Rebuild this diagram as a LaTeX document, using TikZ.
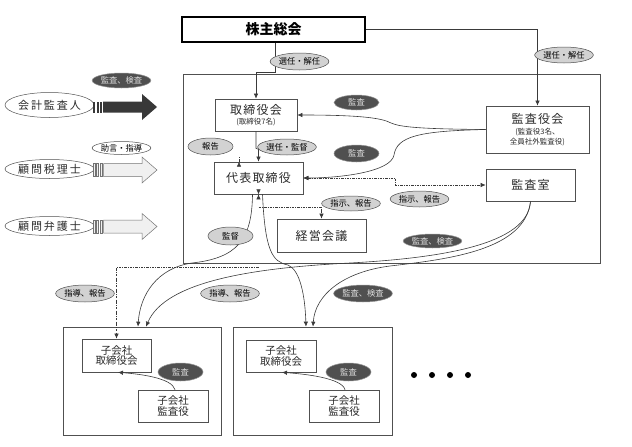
\documentclass[tikz,border=0pt]{standalone}
\usepackage{fontspec}
\setmainfont{Noto Sans CJK JP}
\newfontfamily\jpsp[LetterSpace=10]{Noto Sans CJK JP}
\newfontfamily\jpwide[LetterSpace=18]{Noto Sans CJK JP}
\usetikzlibrary{calc,arrows.meta,shapes.geometric}
\definecolor{lineg}{HTML}{3A3A3A}
\definecolor{boxg}{HTML}{505050}
\definecolor{darkfill}{HTML}{505050}
\definecolor{lightfill}{HTML}{D2D2D2}
\definecolor{arrowdark}{HTML}{383838}
\definecolor{arrowlight}{HTML}{F0F0F0}
\definecolor{txt}{HTML}{2A2A2A}
\definecolor{darklabtxt}{HTML}{DDDDDD}
\begin{document}
\begin{tikzpicture}[x=1pt,y=-1pt,
  box/.style={draw=boxg, line width=0.7pt, fill=white, inner sep=0pt, text=txt, align=center},
  outerbox/.style={draw=boxg, line width=0.7pt, inner sep=0pt},
  bigtxt/.style={font=\jpsp\fontsize{12}{14}\selectfont},
  subtxt/.style={font=\fontsize{10.5}{12.5}\selectfont},
  lab/.style={ellipse, draw=boxg, line width=0.5pt, inner sep=0pt, font=\fontsize{8.3}{9}\selectfont, text=black},
  lablight/.style={lab, fill=lightfill},
  labdark/.style={lab, fill=darkfill, draw=boxg!60, text=darklabtxt},
  labwhite/.style={lab, fill=white},
  person/.style={ellipse, draw=boxg, line width=0.5pt, fill=white, inner sep=0pt, minimum width=75pt, font=\jpwide\fontsize{11}{12}\selectfont, text=txt},
  conn/.style={draw=lineg, line width=0.6pt},
  arr/.style={conn, -{Latex[length=5pt,width=4.5pt]}},
  dd/.style={dash pattern=on 2.5pt off 1.2pt on 0.6pt off 1.2pt},
  lightarrow/.style={draw=boxg!80, line width=0.5pt, fill=arrowlight}
]
\useasboundingbox (0,0) rectangle (632,447);

% ---------- main boxes ----------
\node[box, line width=1.6pt, draw=black, minimum width=183pt, minimum height=25pt,
      font=\bfseries\fontsize{14}{16}\selectfont, text=black] (soukai) at (273.5,29.5) {株主総会};
\node[outerbox, minimum width=417pt, minimum height=189pt] (honsha) at (391.5,168.5) {};
\node[box, minimum width=82pt, minimum height=32pt] (tori) at (256,115)
  {{\jpsp\fontsize{12}{13}\selectfont 取締役会}\\[-2pt]{\fontsize{7.5}{8}\selectfont (取締役7名)}};
\node[box, bigtxt, minimum width=89pt, minimum height=32pt] (daihyo) at (258.5,178) {代表取締役};
\node[box, bigtxt, minimum width=89pt, minimum height=33pt] (keiei) at (321.5,235.5) {経営会議};
\node[box, minimum width=103pt, minimum height=47pt] (kansayaku) at (537.5,129.5)
  {{\jpsp\fontsize{12}{13}\selectfont 監査役会}\\[-1pt]{\fontsize{7.5}{9}\selectfont (監査役3名、}\\[-2pt]{\fontsize{7.5}{9}\selectfont 全員社外監査役)}};
\node[box, bigtxt, minimum width=89pt, minimum height=32pt] (kansashitsu) at (530.5,185) {監査室};

% ---------- subsidiaries ----------
\node[outerbox, minimum width=158pt, minimum height=108pt] (sub1) at (142,381) {};
\node[box, subtxt, minimum width=69pt, minimum height=33pt] (subAtori) at (116.5,355.5) {子会社\\[-2pt]取締役会};
\node[box, subtxt, minimum width=70pt, minimum height=32pt] (subAkansa) at (173,406) {子会社\\[-2pt]監査役};
\node[outerbox, minimum width=159pt, minimum height=108pt] (sub2) at (312.5,381) {};
\node[box, subtxt, minimum width=70pt, minimum height=32pt] (subBtori) at (281,356) {子会社\\[-2pt]取締役会};
\node[box, subtxt, minimum width=70pt, minimum height=32pt] (subBkansa) at (344,406) {子会社\\[-2pt]監査役};

\foreach \x/\n in {414/a,432/b,450/c,468/d}
  \fill[black] (\x,375) circle (3pt);

% ---------- left side ----------
\node[person, minimum height=25pt] (kaikei) at (49.5,105) {会計監査人};
\node[person, minimum height=19pt] (zeirishi) at (49.5,169) {顧問税理士};
\node[person, minimum height=19pt] (bengoshi) at (49.5,226) {顧問弁護士};

% dark block arrow
\fill[arrowdark] (103,101.5) -- (142,101.5) -- (142,94) -- (157,107) -- (142,120) -- (142,112.5) -- (103,112.5) -- cycle;
\fill[arrowdark] (93,101.5) rectangle (95.3,112.5);
\fill[arrowdark] (96.5,101.5) rectangle (98.6,112.5);
\fill[arrowdark] (99.8,101.5) rectangle (102,112.5);
% light block arrows
\foreach \c in {170,226.5}{
  \draw[lightarrow] (103.5,\c-6.5) -- (142,\c-6.5) -- (142,\c-13) -- (157,\c) -- (142,\c+13) -- (142,\c+6.5) -- (103.5,\c+6.5) -- cycle;
  \draw[lightarrow] (93,\c-6.5) rectangle (95.2,\c+6.5);
  \draw[lightarrow] (96.4,\c-6.5) rectangle (98.6,\c+6.5);
  \draw[lightarrow] (99.8,\c-6.5) rectangle (102,\c+6.5);
}

% ---------- connectors ----------
\draw[arr] ($(soukai.south)+(1.5,0)$) -- ++(0,29.5) -| (tori.north);
\draw[arr] (soukai.east) -| (kansayaku.north);
\draw[arr] (kansayaku.west) .. controls (420,129) and (400,127) .. (391,123)
  .. controls (382,118) and (360,115) .. (tori.east);
\draw[arr] (kansayaku.west) .. controls (420,131) and (397,136) .. (394,155)
  .. controls (391,172) and (340,178) .. (daihyo.east);
\draw[arr] (tori.south) -- ++(0,17) -- ++(2.5,1) -- (daihyo.north);
\draw[arr, dd] ($(daihyo.north)+(-19.5,0)$) -- ($(daihyo.north)+(-19.5,0)$ |- tori.south);
\draw[conn, dd, {Latex[length=5pt,width=4.5pt]}-{Latex[length=5pt,width=4.5pt]}]
  (daihyo.east) -- ++(92,0) |- (kansashitsu.west);
\draw[conn, dd, {Latex[length=5pt,width=4.5pt]}-{Latex[length=5pt,width=4.5pt]}]
  (daihyo.south) -- ($(daihyo.south)$ |- subBtori.north);
\draw[arr, dd] ($(daihyo.south)+(0,13)$) -| (keiei.north);
\draw[arr, dd] ($(daihyo.south)+(0,73)$) -| (subAtori.north);

% curves to subsidiaries
\draw[arr] ($(daihyo.south)+(-6,0)$) .. controls (252,240) and (237,258) .. (192,263)
  .. controls (157,268) and (140,295) .. ($(sub1.north)+(-4,0)$);
\draw[arr] ($(daihyo.south)+(4,0)$) .. controls (265,250) and (272,262) .. (288,265)
  .. controls (300,270) and (305,295) .. ($(sub2.north)+(-6.5,0)$);
\draw[arr] (kansashitsu.south) .. controls (528,245) and (440,258) .. (350,263)
  .. controls (250,268) and (165,282) .. ($(sub1.north)+(4,0)$);
\draw[arr] (kansashitsu.south) .. controls (525,250) and (450,259) .. (390,266)
  .. controls (343,272) and (315,295) .. ($(sub2.north)+(0.5,0)$);

% inside subsidiaries
\draw[arr] ($(subAkansa.north)+(2,0)$) .. controls (172,378) and (140,374) .. ($(subAtori.south)+(1.5,0)$);
\draw[arr] ($(subBkansa.north)+(1,0)$) .. controls (342,378) and (305,374) .. ($(subBtori.south)+(1,0)$);

% ---------- labels ----------
\node[labdark, minimum width=43pt, minimum height=15pt] (l1) at (121.5,80.5) {監査、検査};
\node[labwhite, minimum width=43pt, minimum height=13pt] (l2) at (121.5,148) {助言・指導};
\node[lablight, minimum width=45pt, minimum height=17pt] (l3) at (299.5,61.5) {選任・解任};
\node[lablight, minimum width=44pt, minimum height=16pt] (l4) at (564,55) {選任・解任};
\node[labdark, minimum width=45pt, minimum height=15pt] (l5) at (356.5,102.5) {監査};
\node[labdark, minimum width=45pt, minimum height=17pt] (l6) at (356.5,153.5) {監査};
\node[lablight, minimum width=45pt, minimum height=17pt] (l7) at (210.5,146.5) {報告};
\node[lablight, minimum width=44pt, minimum height=16pt] (l8) at (287,147) {選任・監督};
\node[lablight, minimum width=44pt, minimum height=15pt] (l9) at (351,203.5) {指示、報告};
\node[lablight, minimum width=45pt, minimum height=16pt] (l10) at (419.5,199) {指示、報告};
\node[lablight, minimum width=45pt, minimum height=18pt] (l11) at (230.5,236) {監督};
\node[labdark, minimum width=45pt, minimum height=14pt] (l12) at (432.5,241) {監査、検査};
\node[labdark, minimum width=44pt, minimum height=17pt] (l13) at (363,293.5) {監査、検査};
\node[lablight, minimum width=44pt, minimum height=17pt] (l14) at (85,293.5) {指導、報告};
\node[lablight, minimum width=44pt, minimum height=17pt] (l15) at (230,293.5) {指導、報告};
\node[labdark, minimum width=45pt, minimum height=18pt] (l16) at (180.5,372) {監査};
\node[labdark, minimum width=45pt, minimum height=18pt] (l17) at (348.5,372) {監査};
\end{tikzpicture}
\end{document}
